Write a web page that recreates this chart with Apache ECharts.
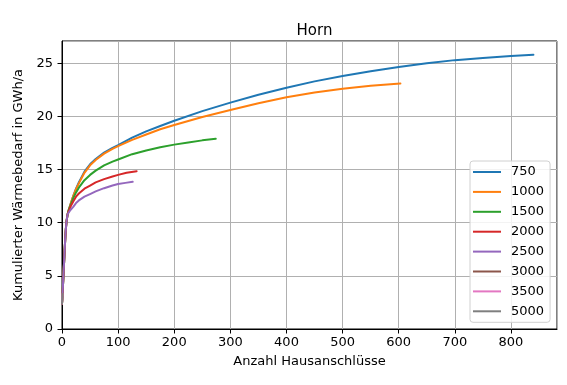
<!DOCTYPE html>
<html>
<head>
<meta charset="utf-8">
<script src="https://cdn.jsdelivr.net/npm/echarts@6/dist/echarts.min.js"></script>
<style>html,body{margin:0;padding:0;background:#fff;}#c{width:567px;height:385px;}</style>
</head>
<body>
<div id="c"></div>
<script>
// Series names (legend)
const seriesNames = ['750', '1000', '1500', '2000', '2500', '3000', '3500', '5000'];
// Common steep start of every curve [Anzahl Hausanschlüsse, GWh/a]
const startPts = [[0, 2.4], [1, 3.4], [2, 4.4], [3, 5.5], [4, 6.6], [5, 7.7], [6, 8.7], [7, 9.5], [8, 10.1], [10, 10.8]];
const s750 = [[12, 11.2], [15, 11.7], [20, 12.5], [25, 13.2], [30, 13.8], [40, 14.8], [50, 15.5], [60, 16.0], [75, 16.6], [90, 17.05], [100, 17.3], [125, 18.0], [150, 18.6], [175, 19.1], [200, 19.6], [250, 20.5], [300, 21.3], [350, 22.05], [400, 22.7], [450, 23.3], [500, 23.8], [550, 24.25], [600, 24.65], [650, 25.0], [700, 25.3], [750, 25.5], [800, 25.7], [840, 25.8]];
const s1000 = [[12, 11.2], [15, 11.7], [20, 12.5], [25, 13.15], [30, 13.7], [40, 14.7], [50, 15.4], [60, 15.9], [75, 16.5], [90, 16.95], [100, 17.2], [125, 17.8], [150, 18.3], [175, 18.8], [200, 19.2], [250, 19.95], [300, 20.6], [350, 21.25], [400, 21.8], [450, 22.25], [500, 22.6], [550, 22.9], [603, 23.1]];
const s1500 = [[12, 11.2], [15, 11.6], [20, 12.3], [25, 12.85], [30, 13.3], [40, 14.0], [50, 14.5], [60, 14.9], [75, 15.4], [90, 15.75], [100, 15.95], [125, 16.45], [150, 16.8], [175, 17.1], [200, 17.35], [225, 17.55], [250, 17.75], [274, 17.9]];
const s2000 = [[12, 11.1], [15, 11.5], [20, 12.0], [25, 12.45], [30, 12.75], [40, 13.2], [50, 13.5], [60, 13.8], [75, 14.1], [90, 14.35], [100, 14.5], [115, 14.7], [133, 14.85]];
const s2500 = [[12, 10.95], [15, 11.2], [20, 11.5], [25, 11.85], [30, 12.1], [40, 12.45], [50, 12.7], [60, 12.95], [75, 13.25], [90, 13.5], [100, 13.65], [113, 13.75], [126, 13.85]];
const s3000 = [[0, 2.4], [1, 3.3]];
const s3500 = [[0, 2.4], [1, 3.3]];
const s5000 = [[0, 2.4], [1, 3.3]];
// Axis ticks
const xTicks = { min: 0, max: 882, interval: 100 };
const yTicks = { min: 0, max: 27.1, interval: 5 };
const colors = ['#1f77b4', '#ff7f0e', '#2ca02c', '#d62728', '#9467bd', '#8c564b', '#e377c2', '#7f7f7f'];

const curves = [s750, s1000, s1500, s2000, s2500, s3000, s3500, s5000];
const font = 'DejaVu Sans';
const chart = echarts.init(document.getElementById('c'), null, { renderer: 'canvas' });
const series = seriesNames.map((n, i) => ({
  name: n,
  type: 'line',
  data: i < 5 ? startPts.concat(curves[i]) : curves[i],
  showSymbol: false,
  smooth: false,
  lineStyle: { width: 2, color: colors[i], join: 'round', cap: 'round' },
  itemStyle: { color: colors[i] },
  animation: false,
  z: 2 + i
}));

chart.setOption({
  animation: false,
  color: colors,
  title: {
    text: 'Horn', left: 309.5, textAlign: 'center', top: 19,
    textStyle: { fontFamily: font, fontSize: 15, fontWeight: 'normal', color: '#000' }
  },
  grid: { left: 62, right: 10, top: 41, bottom: 56, show: true, borderColor: '#000', borderWidth: 1, backgroundColor: 'transparent' },
  legend: {
    orient: 'vertical', left: 470, top: 161,
    data: seriesNames,
    icon: 'rect', itemWidth: 28, itemHeight: 2, itemGap: 5.9,
    padding: [4, 6, 4, 3],
    borderColor: '#d0d0d0', borderWidth: 1, borderRadius: 3,
    backgroundColor: 'rgba(255,255,255,0.85)',
    textStyle: { fontFamily: font, fontSize: 13, color: '#000', lineHeight: 14, padding: [0, 0, 0, 5] }
  },
  xAxis: {
    type: 'value', min: xTicks.min, max: xTicks.max, interval: xTicks.interval,
    name: 'Anzahl Hausanschlüsse', nameLocation: 'middle', nameGap: 26,
    nameTextStyle: { fontFamily: font, fontSize: 13, color: '#000' },
    axisLine: { show: true, onZero: false, lineStyle: { color: '#000', width: 1 } },
    axisTick: { show: true, inside: false, length: 4.5, lineStyle: { color: '#000' } },
    axisLabel: { fontFamily: font, fontSize: 13, color: '#000', margin: 7, showMaxLabel: false },
    splitLine: { show: true, lineStyle: { color: '#b0b0b0', width: 1 } }
  },
  yAxis: {
    type: 'value', min: yTicks.min, max: yTicks.max, interval: yTicks.interval,
    name: 'Kumulierter Wärmebedarf in GWh/a', nameLocation: 'middle', nameGap: 33,
    nameTextStyle: { fontFamily: font, fontSize: 13, color: '#000' },
    axisLine: { show: true, onZero: false, lineStyle: { color: '#000', width: 1 } },
    axisTick: { show: true, inside: false, length: 4.5, lineStyle: { color: '#000' } },
    axisLabel: { fontFamily: font, fontSize: 13, color: '#000', margin: 9, showMaxLabel: false },
    splitLine: { show: true, lineStyle: { color: '#b0b0b0', width: 1 } }
  },
  series: series
});
</script>
</body>
</html>
